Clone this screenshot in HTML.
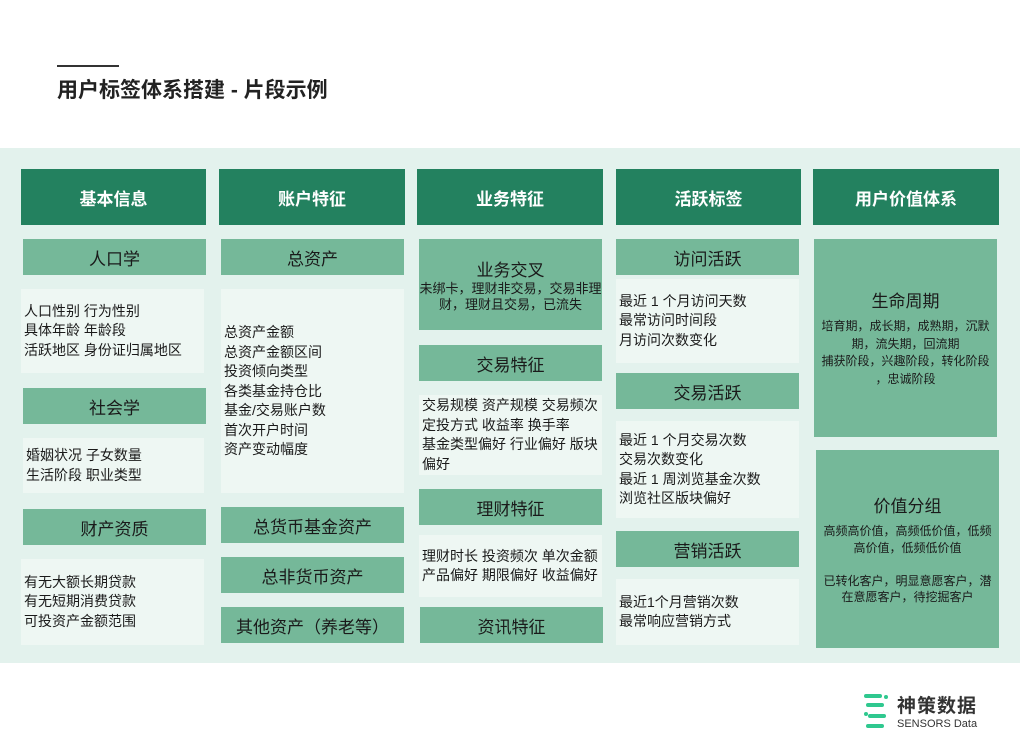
<!DOCTYPE html>
<html><head><meta charset="utf-8"><style>
*{margin:0;padding:0;box-sizing:border-box}
body{width:1020px;height:750px;background:#fff;position:relative;overflow:hidden;font-family:"Liberation Sans","Noto Sans CJK SC",sans-serif;color:#1a1a1a}
.a{position:absolute}
.h{background:#23815f;color:#fff;font-weight:bold;font-size:17px;display:flex;align-items:center;justify-content:center}
.s{background:#75b899;font-size:17px;display:flex;align-items:center;justify-content:center;color:#1a1a1a}
.t{background:#eef7f3;font-size:14px;line-height:19.5px;padding-left:3px;display:flex;flex-direction:column;justify-content:center}
.c{text-align:center;flex-direction:column}
</style></head><body>
<div class="a" style="left:57px;top:65px;width:62px;height:2px;background:#333"></div>
<div class="a" style="left:57px;top:74px;font-size:21px;font-weight:bold;color:#222">用户标签体系搭建 - 片段示例</div>
<div class="a" style="left:0;top:148px;width:1020px;height:515px;background:#e3f2ed"></div>

<div class="a h" style="left:21px;top:169px;width:185px;height:56px">基本信息</div>
<div class="a h" style="left:219px;top:169px;width:186px;height:56px">账户特征</div>
<div class="a h" style="left:417px;top:169px;width:186px;height:56px">业务特征</div>
<div class="a h" style="left:616px;top:169px;width:185px;height:56px">活跃标签</div>
<div class="a h" style="left:813px;top:169px;width:186px;height:56px">用户价值体系</div>

<div class="a s" style="left:23px;top:239px;width:183px;height:36px">人口学</div>
<div class="a t" style="left:21px;top:289px;width:183px;height:84px">人口性别 行为性别<br>具体年龄 年龄段<br>活跃地区 身份证归属地区</div>
<div class="a s" style="left:23px;top:388px;width:183px;height:36px">社会学</div>
<div class="a t" style="left:23px;top:438px;width:181px;height:55px">婚姻状况 子女数量<br>生活阶段 职业类型</div>
<div class="a s" style="left:23px;top:509px;width:183px;height:36px">财产资质</div>
<div class="a t" style="left:21px;top:559px;width:183px;height:86px">有无大额长期贷款<br>有无短期消费贷款<br>可投资产金额范围</div>

<div class="a s" style="left:221px;top:239px;width:183px;height:36px">总资产</div>
<div class="a t" style="left:221px;top:289px;width:183px;height:204px;justify-content:flex-start;padding-top:34px">总资产金额<br>总资产金额区间<br>投资倾向类型<br>各类基金持仓比<br>基金/交易账户数<br>首次开户时间<br>资产变动幅度</div>
<div class="a s" style="left:221px;top:507px;width:183px;height:36px">总货币基金资产</div>
<div class="a s" style="left:221px;top:557px;width:183px;height:36px">总非货币资产</div>
<div class="a s" style="left:221px;top:607px;width:183px;height:36px">其他资产（养老等）</div>

<div class="a s c" style="left:419px;top:239px;width:183px;height:91px"><div>业务交叉</div><div style="font-size:13px;line-height:16px">未绑卡，理财非交易，交易非理<br>财，理财且交易，已流失</div></div>
<div class="a s" style="left:419px;top:345px;width:183px;height:36px">交易特征</div>
<div class="a t" style="left:419px;top:395px;width:183px;height:80px">交易规模 资产规模 交易频次<br>定投方式 收益率 换手率<br>基金类型偏好 行业偏好 版块<br>偏好</div>
<div class="a s" style="left:419px;top:489px;width:183px;height:36px">理财特征</div>
<div class="a t" style="left:419px;top:535px;width:183px;height:62px">理财时长 投资频次 单次金额<br>产品偏好 期限偏好 收益偏好</div>
<div class="a s" style="left:420px;top:607px;width:183px;height:36px">资讯特征</div>

<div class="a s" style="left:616px;top:239px;width:183px;height:36px">访问活跃</div>
<div class="a t" style="left:616px;top:279px;width:183px;height:84px">最近 1 个月访问天数<br>最常访问时间段<br>月访问次数变化</div>
<div class="a s" style="left:616px;top:373px;width:183px;height:36px">交易活跃</div>
<div class="a t" style="left:616px;top:421px;width:183px;height:97px">最近 1 个月交易次数<br>交易次数变化<br>最近 1 周浏览基金次数<br>浏览社区版块偏好</div>
<div class="a s" style="left:616px;top:531px;width:183px;height:36px">营销活跃</div>
<div class="a t" style="left:616px;top:579px;width:183px;height:66px">最近1个月营销次数<br>最常响应营销方式</div>

<div class="a s c" style="left:814px;top:239px;width:183px;height:198px;justify-content:flex-start;padding-top:48px"><div style="margin-bottom:6px">生命周期</div><div style="font-size:12px;line-height:17.5px">培育期，成长期，成熟期，沉默<br>期，流失期，回流期<br>捕获阶段，兴趣阶段，转化阶段<br>，忠诚阶段</div></div>
<div class="a s c" style="left:816px;top:450px;width:183px;height:198px;justify-content:flex-start;padding-top:42px"><div style="margin-bottom:6px">价值分组</div><div style="font-size:12px;line-height:16.5px">高频高价值，高频低价值，低频<br>高价值，低频低价值<br><br>已转化客户，明显意愿客户，潜<br>在意愿客户，待挖掘客户</div></div>

<svg class="a" style="left:862px;top:692px" width="30" height="40">
<g stroke="#2fc88f" stroke-width="4" stroke-linecap="round">
<line x1="4" y1="4" x2="18" y2="4"/><line x1="6" y1="13" x2="20" y2="13"/><line x1="8" y1="24" x2="22" y2="24"/><line x1="6" y1="34" x2="20" y2="34"/></g>
<circle cx="24" cy="5" r="2" fill="#2fc88f"/><circle cx="4" cy="22" r="2" fill="#2fc88f"/></svg>
<div class="a" style="left:897px;top:691px;font-size:19px;font-weight:bold;color:#333;letter-spacing:1px">神策数据</div>
<div class="a" style="left:897px;top:718px;font-size:11px;color:#333">SENSORS Data</div>
</body></html>
